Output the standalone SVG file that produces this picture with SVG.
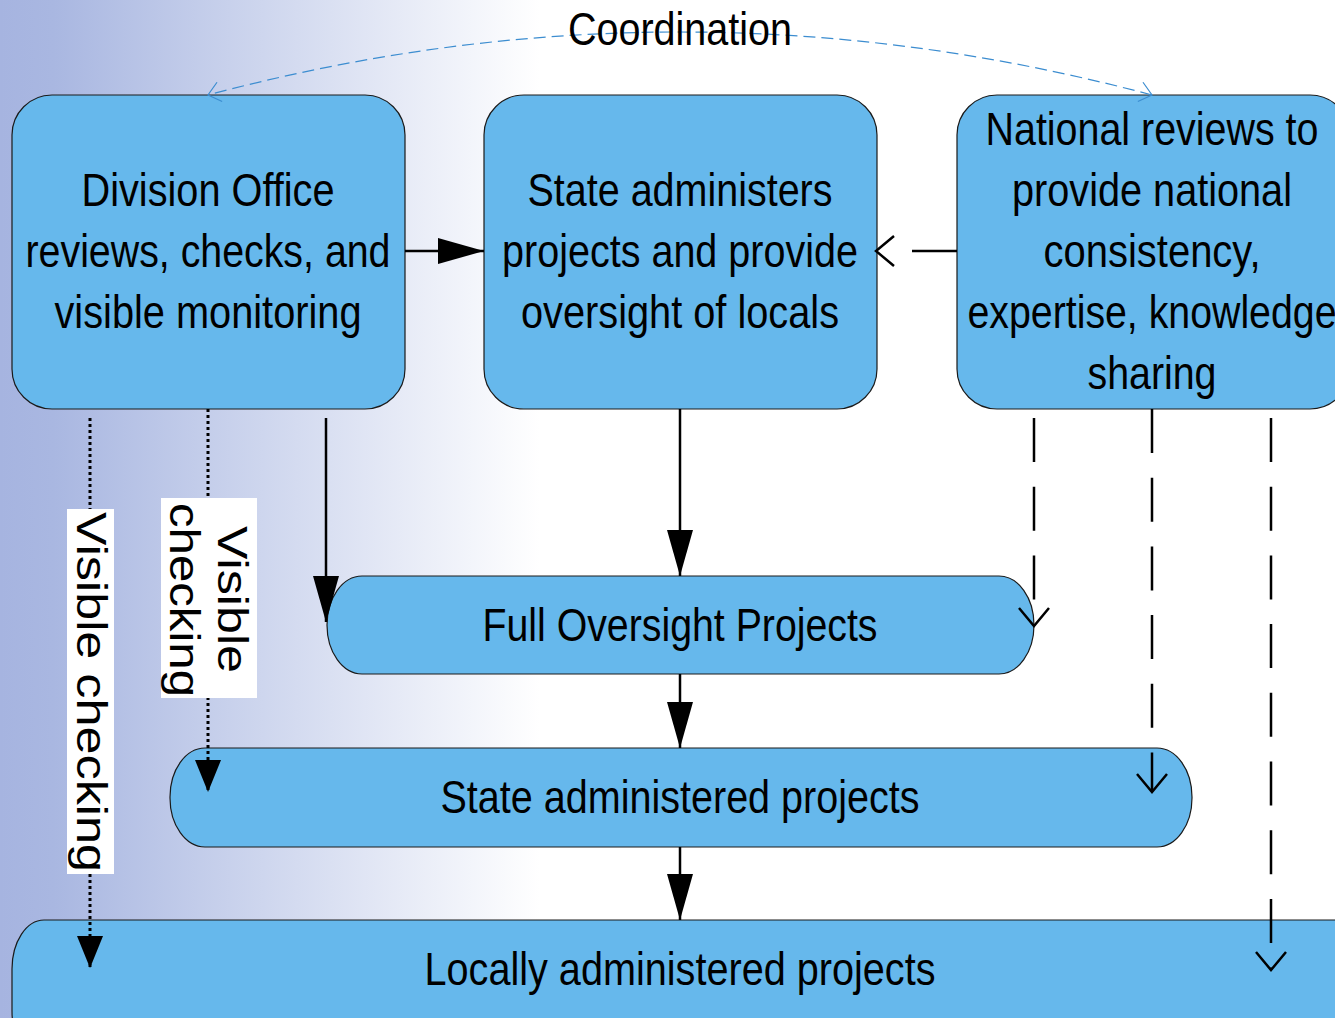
<svg xmlns="http://www.w3.org/2000/svg" width="1335" height="1018" viewBox="0 0 1335 1018">
<defs>
<linearGradient id="bg" gradientUnits="userSpaceOnUse" x1="0" y1="0" x2="540" y2="0">
<stop offset="0" stop-color="#a6b4e0"/>
<stop offset="0.1" stop-color="#a9b7e1"/>
<stop offset="1" stop-color="#ffffff"/>
</linearGradient>
<marker id="fill" markerUnits="userSpaceOnUse" viewBox="0 0 46 26" refX="46" refY="13" markerWidth="46" markerHeight="26" orient="auto">
<path d="M0,0 L46,13 L0,26 z" fill="#000"/>
</marker>
<marker id="fillS" markerUnits="userSpaceOnUse" viewBox="0 0 32 26" refX="32" refY="13" markerWidth="32" markerHeight="26" orient="auto">
<path d="M0,0 L32,13 L0,26 z" fill="#000"/>
</marker>
<marker id="open" markerUnits="userSpaceOnUse" viewBox="-2 -2 22 34" refX="18" refY="15" markerWidth="22" markerHeight="34" orient="auto">
<path d="M0,0 L18,15 L0,30" fill="none" stroke="#000" stroke-width="2.5"/>
</marker>
<marker id="openB" markerUnits="userSpaceOnUse" viewBox="-2 -2 16 24" refX="12" refY="10" markerWidth="16" markerHeight="24" orient="auto">
<path d="M0,0 L12,10 L0,20" fill="none" stroke="#3c8dd0" stroke-width="1.2"/>
</marker>
</defs>
<style>
.box{fill:#66b8ec;stroke:#1a1a1a;stroke-width:1.2}
.t{font-family:'Liberation Sans',Arial,sans-serif;font-size:47px;fill:#000;text-anchor:middle}
.lbl{font-family:'Liberation Sans',Arial,sans-serif;font-size:42px;fill:#000}
.solid{fill:none;stroke:#000;stroke-width:2.5}
.dash{fill:none;stroke:#000;stroke-width:2.5;stroke-dasharray:44 24.7}
.dot{fill:none;stroke:#000;stroke-width:3;stroke-dasharray:3 3}
.coord{fill:none;stroke:#3c8dd0;stroke-width:1.2;stroke-dasharray:12 6}
</style>
<rect x="0" y="0" width="1335" height="1018" fill="url(#bg)"/>

<g id="division-office">
<rect class="box" x="12" y="95" width="393" height="314" rx="40" ry="40"/>
<text class="t" x="208" y="206" textLength="253" lengthAdjust="spacingAndGlyphs">Division Office</text>
<text class="t" x="208" y="267" textLength="365" lengthAdjust="spacingAndGlyphs">reviews, checks, and</text>
<text class="t" x="208" y="328" textLength="307" lengthAdjust="spacingAndGlyphs">visible monitoring</text>
</g>
<g id="state-administers">
<rect class="box" x="484" y="95" width="393" height="314" rx="40" ry="40"/>
<text class="t" x="680" y="206" textLength="305" lengthAdjust="spacingAndGlyphs">State administers</text>
<text class="t" x="680" y="267" textLength="356" lengthAdjust="spacingAndGlyphs">projects and provide</text>
<text class="t" x="680" y="328" textLength="318" lengthAdjust="spacingAndGlyphs">oversight of locals</text>
</g>
<g id="national-reviews">
<rect class="box" x="957" y="95" width="393" height="314" rx="40" ry="40"/>
<text class="t" x="1152" y="145" textLength="333" lengthAdjust="spacingAndGlyphs">National reviews to</text>
<text class="t" x="1152" y="206" textLength="280" lengthAdjust="spacingAndGlyphs">provide national</text>
<text class="t" x="1152" y="267" textLength="217" lengthAdjust="spacingAndGlyphs">consistency,</text>
<text class="t" x="1152" y="328" textLength="369" lengthAdjust="spacingAndGlyphs">expertise, knowledge</text>
<text class="t" x="1152" y="389" textLength="129" lengthAdjust="spacingAndGlyphs">sharing</text>
</g>
<g id="full-oversight">
<rect class="box" x="327" y="576" width="707" height="98" rx="35" ry="49"/>
<text class="t" x="680" y="641" textLength="395" lengthAdjust="spacingAndGlyphs">Full Oversight Projects</text>
</g>
<g id="state-administered">
<rect class="box" x="170" y="748" width="1022" height="99" rx="35" ry="49"/>
<text class="t" x="680" y="813" textLength="479" lengthAdjust="spacingAndGlyphs">State administered projects</text>
</g>
<g id="locally-administered">
<rect class="box" x="12" y="920" width="1370" height="140" rx="32" ry="49"/>
<text class="t" x="680" y="985" textLength="511" lengthAdjust="spacingAndGlyphs">Locally administered projects</text>
</g>

<g id="connectors">
<path class="solid" d="M405,251 L484,251" marker-end="url(#fill)"/>
<path class="dash" d="M957,251 L876,251" style="stroke-dasharray:45 40" marker-end="url(#open)"/>
<path class="solid" d="M326,418 L326,622" marker-end="url(#fill)"/>
<path class="solid" d="M680,409 L680,576" marker-end="url(#fill)"/>
<path class="solid" d="M680,674 L680,748" marker-end="url(#fill)"/>
<path class="solid" d="M680,847 L680,920" marker-end="url(#fill)"/>
<path class="dash" d="M1034,418 L1034,626" marker-end="url(#open)"/>
<path class="dash" d="M1152,409 L1152,792" marker-end="url(#open)"/>
<path class="dash" d="M1271,418 L1271,970" marker-end="url(#open)"/>
<path class="dot" d="M90,418 L90,968" marker-end="url(#fillS)"/>
<path class="dot" d="M208,409 L208,792" marker-end="url(#fillS)"/>
<path class="coord" d="M1152,95 Q680,-31 208,95" marker-end="url(#openB)"/>
<path class="coord" d="M208,95 Q680,-31 1152,95" style="stroke:none" marker-end="url(#openB)"/>
</g>

<g id="label-coordination">
<text class="t" x="680" y="45" textLength="224" lengthAdjust="spacingAndGlyphs">Coordination</text>
</g>
<g id="label-visible-checking-1">
<rect x="67" y="509" width="47" height="365" fill="#fff"/>
<text class="lbl" transform="translate(77,512) rotate(90)" x="0" y="0" textLength="360" lengthAdjust="spacingAndGlyphs">Visible checking</text>
</g>
<g id="label-visible-checking-2">
<rect x="161" y="498" width="96" height="200" fill="#fff"/>
<text class="lbl" transform="translate(218,526) rotate(90)" x="0" y="0" textLength="147" lengthAdjust="spacingAndGlyphs">Visible</text>
<text class="lbl" transform="translate(170,503) rotate(90)" x="0" y="0" textLength="194" lengthAdjust="spacingAndGlyphs">checking</text>
</g>
</svg>
